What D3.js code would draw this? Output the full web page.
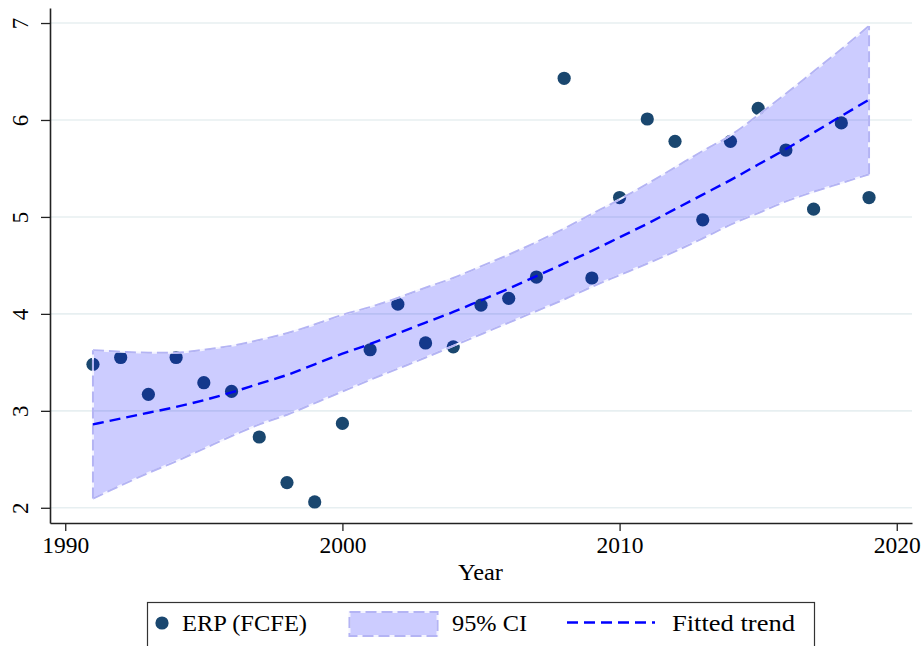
<!DOCTYPE html>
<html><head><meta charset="utf-8">
<script src="https://cdn.jsdelivr.net/npm/d3@7"></script>
<style>body{margin:0;background:#fff}svg{display:block}text{font-family:"Liberation Serif","DejaVu Serif",serif}</style>
</head><body>
<script>
const years = [1991,1992,1993,1994,1995,1996,1997,1998,1999,2000,2001,2002,2003,2004,2005,2006,2007,2008,2009,2010,2011,2012,2013,2014,2015,2016,2017,2018,2019];
const erp = [3.48,3.55,3.17,3.55,3.29,3.20,2.73,2.26,2.06,2.87,3.63,4.10,3.70,3.66,4.09,4.16,4.38,6.43,4.37,5.20,6.01,5.78,4.97,5.78,6.12,5.69,5.08,5.97,5.20];
const fitted = [2.86,2.92,2.98,3.04,3.11,3.19,3.28,3.37,3.48,3.59,3.69,3.80,3.91,4.02,4.14,4.26,4.39,4.52,4.65,4.79,4.93,5.08,5.23,5.38,5.54,5.70,5.87,6.04,6.21];
const ciLow = [2.095,2.23,2.36,2.48,2.61,2.74,2.86,2.96,3.08,3.20,3.32,3.435,3.55,3.67,3.79,3.91,4.03,4.15,4.28,4.40,4.52,4.645,4.78,4.92,5.04,5.16,5.26,5.35,5.44];
const ciHigh = [3.625,3.61,3.60,3.60,3.63,3.67,3.73,3.80,3.89,3.99,4.07,4.165,4.27,4.37,4.49,4.61,4.74,4.88,5.03,5.18,5.34,5.51,5.68,5.84,6.05,6.27,6.50,6.73,6.97];
const xTicks = [1990,2000,2010,2020];
const yTicks = [2,3,4,5,6,7];
const xTitle = "Year";
const legendLabels = ["ERP (FCFE)","95% CI","Fitted trend"];

const W=923,H=646;
const svg=d3.select("body").append("svg").attr("width",W).attr("height",H);
const x=d3.scaleLinear().domain([1989.45,2020.55]).range([50,912]);
const y=d3.scaleLinear().domain([1.843,7.155]).range([523,8]);

// gridlines
svg.append("g").selectAll("line").data(yTicks).join("line")
  .attr("x1",50).attr("x2",912).attr("y1",d=>y(d)).attr("y2",d=>y(d))
  .attr("stroke","#e7eff1").attr("stroke-width",1.6);

// points
svg.append("g").selectAll("circle").data(years).join("circle")
  .attr("cx",d=>x(d)).attr("cy",(d,i)=>y(erp[i])).attr("r",6.6).attr("fill","#1a476f");

// CI band
const idx=d3.range(years.length);
const last=years.length-1;
const area=d3.area().x(i=>x(years[i])).y0(i=>y(ciLow[i])).y1(i=>y(ciHigh[i])).curve(d3.curveMonotoneX);
svg.append("path").attr("d",area(idx)).attr("fill","rgb(0,0,255)").attr("fill-opacity",0.2);
const cl=d3.line().curve(d3.curveMonotoneX);
const outlines=[
  cl(idx.map(i=>[x(years[i]),y(ciHigh[i])])),
  cl(idx.map(i=>[x(years[i]),y(ciLow[i])])),
  d3.line()([[x(years[0]),y(ciLow[0])],[x(years[0]),y(ciHigh[0])]]),
  d3.line()([[x(years[last]),y(ciLow[last])],[x(years[last]),y(ciHigh[last])]])
];
const og=svg.append("g");
outlines.forEach(p=>{
  og.append("path").attr("d",p).attr("fill","none").attr("stroke","#f4f4ff").attr("stroke-width",2);
  og.append("path").attr("d",p).attr("fill","none").attr("stroke","#b4b4f4").attr("stroke-width",2).attr("stroke-dasharray","11,5");
});

// fitted line
svg.append("path").attr("d",d3.line().x(i=>x(years[i])).y(i=>y(fitted[i])).curve(d3.curveMonotoneX)(idx))
  .attr("fill","none").attr("stroke","#0000ff").attr("stroke-width",2.4).attr("stroke-dasharray","11,6");

// axes
const xa=svg.append("g").attr("transform","translate(0,523)")
  .call(d3.axisBottom(x).tickValues(xTicks).tickSize(8).tickSizeOuter(0).tickFormat(d3.format("d")));
xa.select(".domain").attr("stroke","#222").attr("stroke-width",1.6);
xa.selectAll(".tick line").attr("stroke","#222").attr("stroke-width",1.3);
xa.selectAll(".tick text").attr("font-size",23).attr("fill","#000").attr("y",14).attr("font-family","Liberation Serif")
  .attr("textLength",47).attr("lengthAdjust","spacingAndGlyphs");

const ya=svg.append("g").attr("transform","translate(50,0)")
  .call(d3.axisLeft(y).tickValues(yTicks).tickSize(9).tickSizeOuter(0));
ya.select(".domain").attr("stroke","#222").attr("stroke-width",1.6);
ya.selectAll(".tick line").attr("stroke","#222").attr("stroke-width",1.3);
ya.selectAll(".tick text").remove();
ya.selectAll(".tick").append("text").text(d=>d)
  .attr("transform","translate(-22,0) rotate(-90)").attr("text-anchor","middle")
  .attr("font-size",23).attr("fill","#000").attr("font-family","Liberation Serif");

svg.append("text").attr("x",458).attr("y",580).attr("font-size",23)
  .attr("textLength",45).attr("lengthAdjust","spacingAndGlyphs").text(xTitle);

// legend
const lg=svg.append("g");
lg.append("rect").attr("x",147.5).attr("y",602.5).attr("width",667).attr("height",50).attr("fill","#fff").attr("stroke","#333").attr("stroke-width",1.2);
lg.append("circle").attr("cx",162).attr("cy",623).attr("r",6.6).attr("fill","#1a476f");
lg.append("text").attr("x",182).attr("y",631).attr("font-size",23)
  .attr("textLength",125).attr("lengthAdjust","spacingAndGlyphs").text(legendLabels[0]);
lg.append("rect").attr("x",349.5).attr("y",612).attr("width",88).attr("height",24).attr("fill","rgb(0,0,255)").attr("fill-opacity",0.2);
lg.append("rect").attr("x",349.5).attr("y",612).attr("width",88).attr("height",24).attr("fill","none").attr("stroke","#f4f4ff").attr("stroke-width",2);
lg.append("rect").attr("x",349.5).attr("y",612).attr("width",88).attr("height",24).attr("fill","none").attr("stroke","#b4b4f4").attr("stroke-width",2).attr("stroke-dasharray","11,5");
lg.append("text").attr("x",452).attr("y",631).attr("font-size",23)
  .attr("textLength",75).attr("lengthAdjust","spacingAndGlyphs").text(legendLabels[1]);
lg.append("line").attr("x1",567).attr("x2",655).attr("y1",622.5).attr("y2",622.5).attr("stroke","#0000ff").attr("stroke-width",2.4).attr("stroke-dasharray","11,6");
lg.append("text").attr("x",672).attr("y",631).attr("font-size",23)
  .attr("textLength",123).attr("lengthAdjust","spacingAndGlyphs").text(legendLabels[2]);
</script>
</body></html>
